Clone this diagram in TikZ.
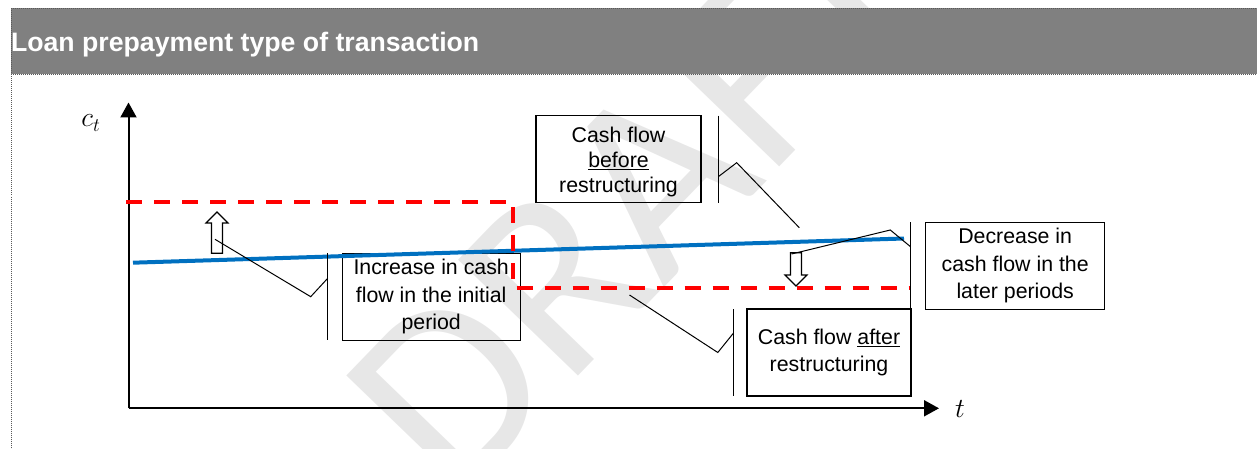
\documentclass[tikz,border=0pt]{standalone}
\usepackage{fontspec}
\setmainfont{Liberation Sans}
\newfontfamily\wmfont{Carlito}
\usetikzlibrary{arrows.meta}
\definecolor{hdrgray}{RGB}{128,128,128}
\definecolor{cfblue}{RGB}{0,112,192}
\definecolor{cfred}{RGB}{255,0,0}
\definecolor{wmgray}{RGB}{231,231,231}
\begin{document}
\begin{tikzpicture}[x=0.75pt,y=-0.75pt,
  framedot/.style={line width=0.75pt, black!65, dash pattern=on 0.75pt off 0.75pt},
  axisline/.style={line width=1.5pt, -{Triangle[length=11.25pt,width=12pt]}},
  cfbox/.style={draw, line width=0.8pt, inner sep=0pt, align=center},
  boxfont/.style={font=\fontsize{16}{20.8}\selectfont},
  accent/.style={line width=0.9pt},
  leader/.style={line width=0.75pt},
  blockarrow/.style={draw, fill=white, line width=0.9pt, line join=miter},
  beforeline/.style={line width=3pt, cfblue},
  afterline/.style={line width=3pt, cfred, dash pattern=on 12pt off 9pt},
  mathlabel/.style={inner sep=0pt, font=\fontsize{20}{24}\selectfont}
]
\useasboundingbox (0,0) rectangle (1257,449);

% watermark
\begin{scope}
\clip (0,0) rectangle (1257,449);
\node[rotate=46, anchor=base west, inner sep=0pt, text=wmgray,
      font=\wmfont\fontsize{195}{195}\selectfont] (wm) at (454,505) {DRAFT};
\end{scope}

% header and frame
\fill[hdrgray] (11,8.5) rectangle (1257,74.5);
\draw[framedot] (11,8.5) -- (1257,8.5);
\draw[framedot] (11,74.5) -- (1257,74.5);
\draw[framedot] (11.5,8.5) -- (11.5,449);
\node[anchor=base west, inner sep=0pt, text=white,
      font=\bfseries\fontsize{20}{24}\selectfont] (title) at (10.8,52) {Loan prepayment type of transaction};

% boxes
\node[cfbox, boxfont, minimum width=177.7*0.75pt, minimum height=86.7*0.75pt] (inc) at (431.2,296.7)
  {\strut Increase in cash\\\strut flow in the initial\\\strut period};
\node[cfbox, font=\fontsize{16}{18.75}\selectfont, minimum width=165*0.75pt, minimum height=87*0.75pt] (bef) at (618.5,159.2)
  {\rule{0pt}{17.6pt}Cash flow\\\strut\underline{before}\\\strut restructuring};
\node[cfbox, boxfont, minimum width=179.1*0.75pt, minimum height=86.7*0.75pt] (dec) at (1015.2,265.7)
  {\strut Decrease in\\\strut cash flow in the\\\strut later periods};
\node[cfbox, boxfont, minimum width=164*0.75pt, minimum height=87*0.75pt] (aft) at (829,352.5)
  {\strut Cash flow \underline{after}\\\strut restructuring};

% axes
\coordinate (O) at (128.5,408.3);
\coordinate (ytop) at (128.5,102.5);
\coordinate (xend) at (939,408.3);
\draw[axisline] (O) -- (ytop);
\draw[axisline] (O) -- (xend);
\node[mathlabel] (ct) at (91,123) {$c_t$};
\node[mathlabel] (tl) at (960,409) {$t$};

% cash flow lines
\coordinate (b0) at (133,262.7);
\coordinate (b1) at (904,238.5);
\draw[beforeline] (b0) -- (b1);
\coordinate (r0) at (126,202);
\coordinate (r1) at (512.7,202);
\coordinate (r2) at (512.7,287.5);
\coordinate (r3) at (910,287.5);
\draw[afterline] (r0) -- (r1) -- (r2) -- (r3);

% block arrows
\coordinate (upA) at (217,253.3);
\draw[blockarrow] (upA) ++(-5.5,0) -- ++(0,-30.3) -- ++(-5.5,0) -- ++(11,-11) -- ++(11,11) -- ++(-5.5,0) -- ++(0,30.3) -- cycle;
\coordinate (dnA) at (796,252.7);
\draw[blockarrow] (dnA) ++(-5.5,0) -- ++(0,22.3) -- ++(-5.5,0) -- ++(11,11) -- ++(11,-11) -- ++(-5.5,0) -- ++(0,-22.3) -- cycle;

% callout: increase
\coordinate (incT) at (327.7,253.3);
\coordinate (incB) at (327.7,340);
\coordinate (incJ) at (327.7,278.3);
\coordinate (incK) at (310.7,296.7);
\coordinate (incE) at (215,239.3);
\draw[accent] (incT) -- (incB);
\draw[leader] (incE) -- (incK) -- (incJ);

% callout: before
\coordinate (befT) at (718.3,115.7);
\coordinate (befB) at (718.3,202.7);
\coordinate (befJ) at (718.3,176.7);
\coordinate (befK) at (736.7,162.7);
\coordinate (befE) at (799.3,227.7);
\draw[accent] (befT) -- (befB);
\draw[leader] (befE) -- (befK) -- (befJ);

% callout: decrease
\coordinate (decT) at (910.5,222.3);
\coordinate (decB) at (910.5,309);
\coordinate (decJ) at (910.5,246.7);
\coordinate (decK) at (890.3,230);
\coordinate (decE) at (791.5,254);
\draw[accent] (decT) -- (decB);
\draw[leader] (decE) -- (decK) -- (decJ);

% callout: after
\coordinate (aftT) at (733.3,309);
\coordinate (aftB) at (733.3,396);
\coordinate (aftJ) at (733.3,333.3);
\coordinate (aftK) at (717.8,352.5);
\coordinate (aftE) at (629.5,295);
\draw[accent] (aftT) -- (aftB);
\draw[leader] (aftE) -- (aftK) -- (aftJ);
\end{tikzpicture}
\end{document}
